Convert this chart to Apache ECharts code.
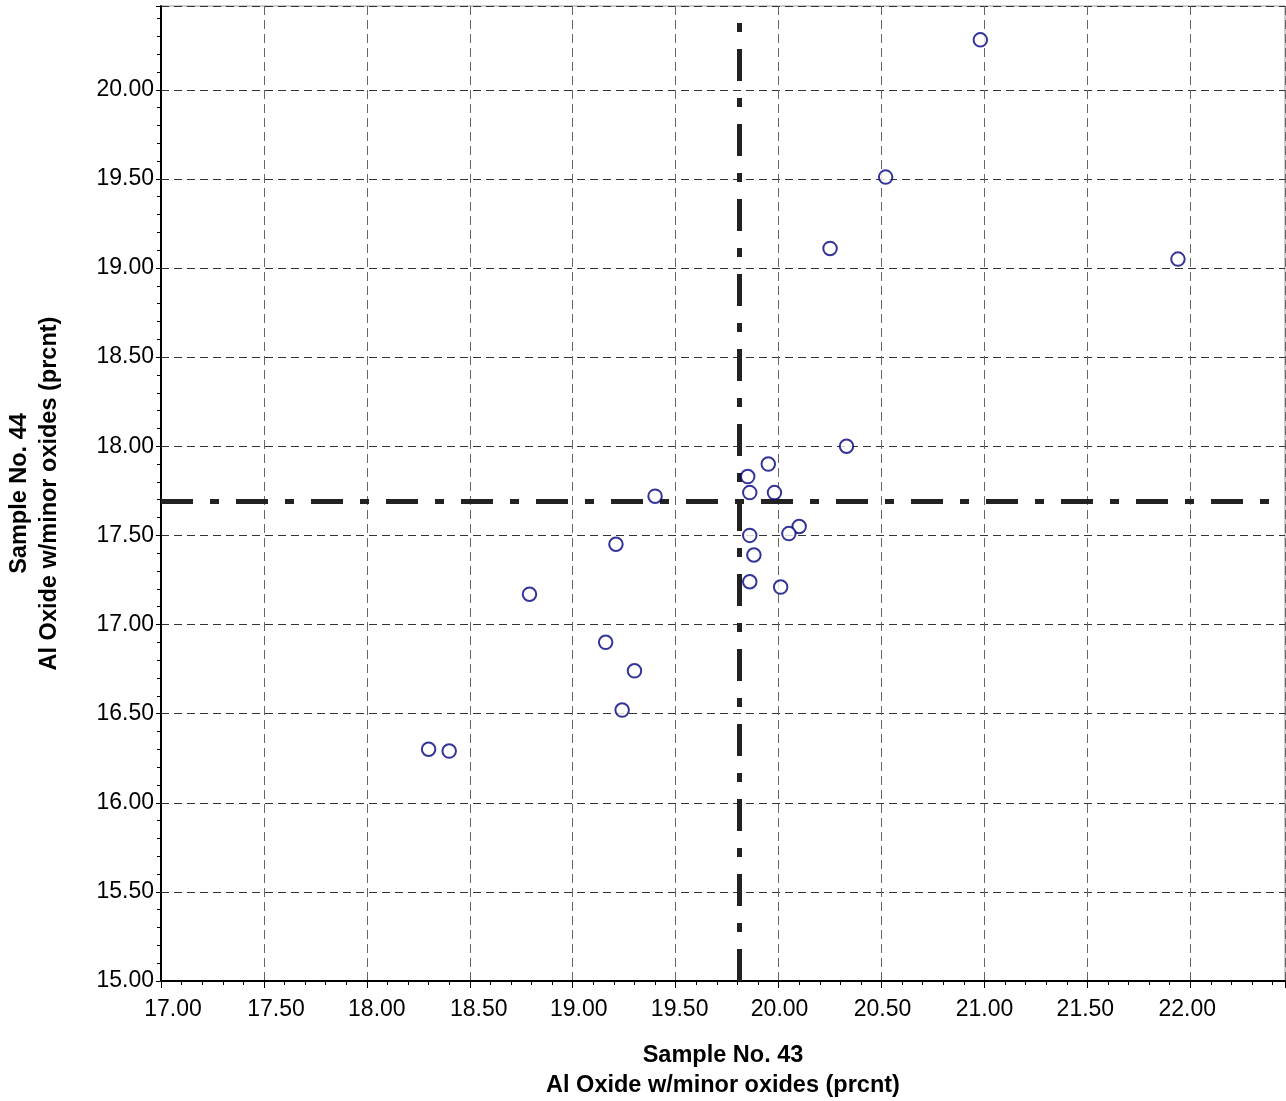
<!DOCTYPE html>
<html>
<head>
<meta charset="utf-8">
<script src="https://cdn.jsdelivr.net/npm/echarts@6/dist/echarts.min.js"></script>
<style>
html,body{margin:0;padding:0;background:#fff;}
#chart{width:1286px;height:1101px;}
</style>
</head>
<body>
<div id="chart"></div>
<script>
// Sample No. 43 (x) vs Sample No. 44 (y), Al Oxide w/minor oxides (prcnt)
const sample43 = [20.98, 20.52, 20.25, 21.94, 20.33, 19.95, 19.85, 19.86, 19.98, 19.40, 20.10, 20.05, 19.86, 19.21, 19.88, 19.86, 20.01, 18.79, 19.16, 19.30, 19.24, 18.30, 18.40];
const sample44 = [20.28, 19.51, 19.11, 19.05, 18.00, 17.90, 17.83, 17.74, 17.74, 17.72, 17.55, 17.51, 17.50, 17.45, 17.39, 17.24, 17.21, 17.17, 16.90, 16.74, 16.52, 16.30, 16.29];
const meanX = 19.81;
const meanY = 17.69;
const xTitle = 'Sample No. 43\nAl Oxide w/minor oxides (prcnt)';
const yTitle = 'Sample No. 44\nAl Oxide w/minor oxides (prcnt)';

const points = sample43.map((x, i) => [x, sample44[i]]);
const font = '"Liberation Sans", Arial, sans-serif';
const fmt = v => {
  const r = Math.round(v * 100);
  return (r % 50 === 0) ? v.toFixed(2) : '';
};
// the original's x tick labels drift slightly relative to their ticks
const labelShift = [12, 12, 10, 9, 6, 4, 1, 1, 0, -2, -3];
const xRich = {};
labelShift.forEach((s, i) => {
  xRich['s' + i] = {fontFamily: font, fontSize: 23, color: '#000',
    padding: s >= 0 ? [0, 0, 0, 2 * s] : [0, -2 * s, 0, 0]};
});
const xFmt = v => {
  const r = Math.round(v * 100);
  if (r % 50 !== 0) return '';
  const i = Math.round((v - 17) / 0.5);
  return '{s' + i + '|' + v.toFixed(2) + '}';
};

const chart = echarts.init(document.getElementById('chart'), null, {renderer: 'canvas'});
chart.setOption({
  animation: false,
  backgroundColor: '#fff',
  grid: {left: 161, top: 6, right: 1, bottom: 120, show: true, borderColor: '#999', borderWidth: 1,
         containLabel: false, outerBoundsMode: 'none'},
  xAxis: {
    type: 'value', min: 17, max: 22.46, interval: 0.5,
    name: xTitle, nameLocation: 'middle', nameGap: 60,
    nameTextStyle: {fontFamily: font, fontSize: 23.5, fontWeight: 'bold', color: '#000', lineHeight: 30},
    axisLine: {show: true, onZero: false, lineStyle: {color: '#000', width: 2}},
    axisTick: {show: true, length: 7, lineStyle: {color: '#000', width: 1}},
    minorTick: {show: true, splitNumber: 5, length: 4, lineStyle: {color: '#000', width: 1}},
    axisLabel: {fontFamily: font, fontSize: 23, color: '#000', margin: 17, formatter: xFmt, rich: xRich, showMaxLabel: false},
    splitLine: {show: true, lineStyle: {color: '#666', width: 1, type: [9, 5]}}
  },
  yAxis: {
    type: 'value', min: 15, max: 20.47, interval: 0.5,
    name: yTitle, nameLocation: 'middle', nameGap: 96, nameRotate: 90,
    nameTextStyle: {fontFamily: font, fontSize: 23.5, fontWeight: 'bold', color: '#000', lineHeight: 30},
    axisLine: {show: true, onZero: false, lineStyle: {color: '#000', width: 2}},
    axisTick: {show: true, length: 5, lineStyle: {color: '#000', width: 1}},
    minorTick: {show: true, splitNumber: 5, length: 4, lineStyle: {color: '#000', width: 1}},
    axisLabel: {fontFamily: font, fontSize: 23, color: '#000', margin: 7, formatter: fmt, showMaxLabel: false},
    splitLine: {show: true, lineStyle: {color: '#333', width: 1, type: [8, 5]}}
  },
  series: [{
    type: 'scatter',
    data: points,
    symbol: 'emptyCircle',
    symbolSize: 13.5,
    itemStyle: {color: '#000080', borderColor: '#000080', borderWidth: 2.6},
    markLine: {
      silent: true,
      symbol: ['none', 'none'],
      label: {show: false},
      lineStyle: {color: '#222', width: 5, type: [32, 17, 9, 17]},
      data: [{xAxis: meanX}, {yAxis: meanY}]
    },
    z: 5
  }]
});
</script>
</body>
</html>
